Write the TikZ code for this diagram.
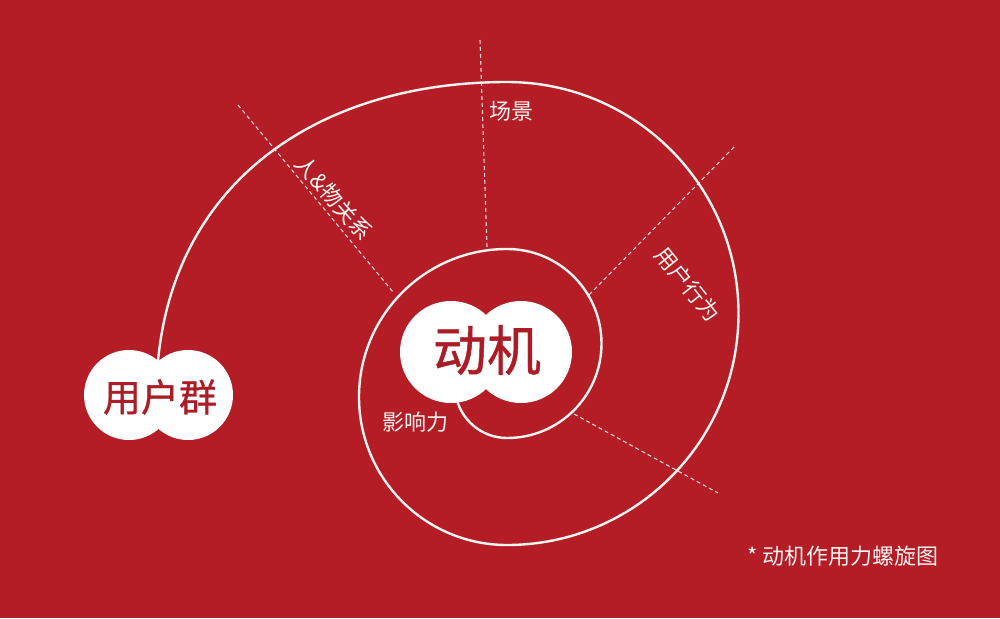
\documentclass[tikz,border=0pt]{standalone}
\usepackage{fontspec}
\setmainfont{Noto Sans CJK SC}
\newfontfamily\heavycjk[FakeBold=0.8]{Noto Sans CJK SC}
\definecolor{bgred}{RGB}{180,28,38}
\definecolor{inkred}{RGB}{172,28,38}
\definecolor{paper}{RGB}{252,244,240}

\begin{document}
\begin{tikzpicture}[x=1pt, y=-1pt]

% Styles
\tikzset{
    bubble/.style={circle, fill=white, inner sep=0pt, minimum size=#1},
    spiralline/.style={draw=paper, line width=2.4pt},
    ray/.style={draw=paper!85!bgred, line width=1.1pt, dash pattern=on 4pt off 3pt},
    note/.style={text=paper, inner sep=0pt, font=\fontsize{22pt}{24pt}\selectfont},
    bigword/.style={text=inkred, inner sep=0pt}
}

% Background
\fill[bgred] (0,0) rectangle (1000,618);

% Rays
\foreach \xa/\ya/\xb/\yb in {480/40/487/247, 238/105/393/292, 734/147/587/297, 574/414/718/493} {
    \draw[ray] (\xa,\ya) -- (\xb,\yb);
}

% Spiral
\coordinate (grptop) at (158,361);
\draw[spiralline] (grptop) .. controls (175,180) and (320,82) .. (507,82)
    arc[start angle=-90, end angle=90, radius=231.5]
    arc[start angle=90, end angle=270, radius=148]
    arc[start angle=-90, end angle=90, radius=94.5]
    arc[start angle=90, end angle=170, radius=52];

% User group
\node[bubble=90pt] (grpL) at (129,395) {};
\node[bubble=90pt] (grpR) at (188,395) {};
\node[bigword, font=\heavycjk\fontsize{38pt}{40pt}\selectfont] (grp) at (160,397) {用户群};

% Motive
\node[bubble=102pt] (motL) at (451,352) {};
\node[bubble=102pt] (motR) at (521,352) {};
\node[bigword, font=\heavycjk\fontsize{54pt}{58pt}\selectfont] (motive) at (487,350) {动机};

% Labels
\node[note] (scene) at (511,111) {场景};
\node[note, rotate=-49] (relation) at (334,198) {人\&物关系};
\node[note, rotate=-51] (behavior) at (688,284) {用户行为};
\node[note] (influence) at (415,422) {影响力};
\node[note] (caption) at (843,556) {* 动机作用力螺旋图};

\end{tikzpicture}
\end{document}
